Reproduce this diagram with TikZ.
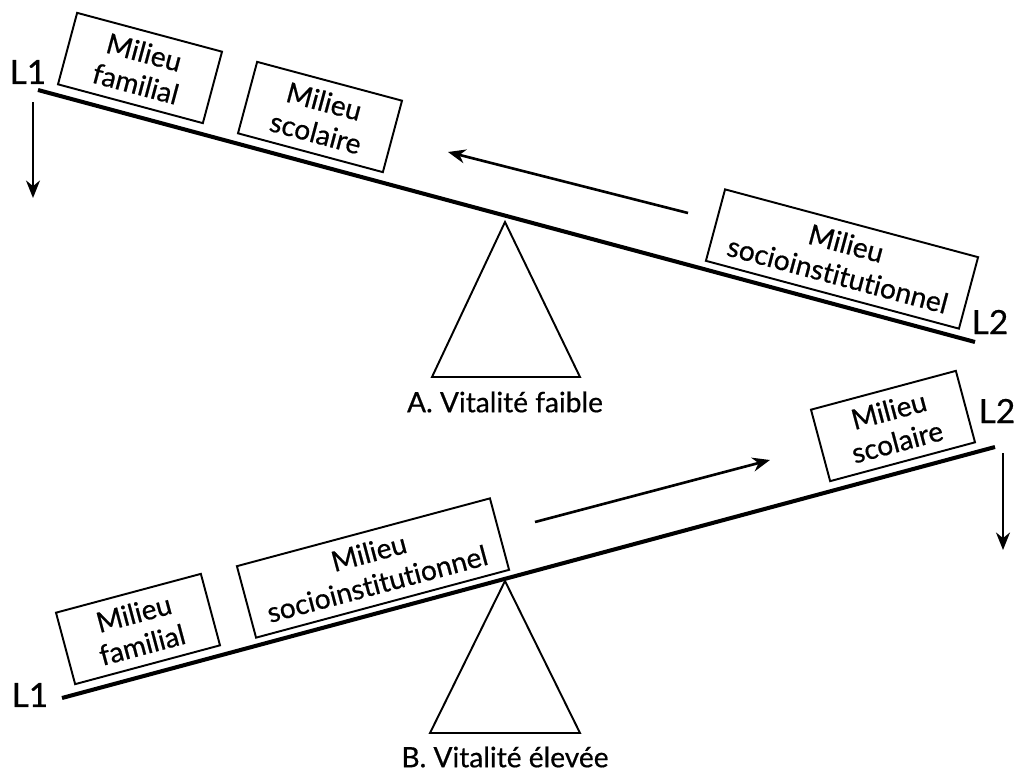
\documentclass[tikz,border=0pt]{standalone}
\usepackage{fontspec}
\setmainfont{Lato}[FakeBold=0.6,Ligatures=NoCommon]
\usetikzlibrary{arrows.meta}
\tikzset{
  milieu/.style={draw,line width=1.1pt,align=center,inner sep=0pt,
    minimum width=3cm,minimum height=1.48cm,font=\fontsize{16}{18.5}\selectfont},
  wide/.style={milieu,minimum width=5.24cm},
  beam/.style={line width=2.3pt},
  pivot/.style={line width=1.1pt,line join=miter},
  push/.style={-{Stealth[length=10pt,width=8pt]},line width=1.5pt},
  lbl/.style={font=\fontsize{16}{19}\selectfont},
  end/.style={font=\fontsize{19}{22}\selectfont}
}
\begin{document}
\begin{tikzpicture}[x=0.02cm,y=-0.02cm]
        \useasboundingbox (0,0) rectangle (1024,774);
        % A. vitalite faible
        \coordinate(a1)at(38,90);
        \coordinate(a2)at(975,342);
        \draw[beam](a1)--(a2);
        \node[end](la1)at(28,72){L1};
        \node[end](la2)at(990,322){L2};
        \draw[pivot](505,222)--(432,377)--(580,377)--cycle;
        \node[lbl](ta)at(505,402){A. Vitalité faible};

        \node[milieu,rotate=-15](afam)at(140,68){Milieu\\familial};
        \node[milieu,rotate=-15](asco)at(320,117){Milieu\\scolaire};
        \node[wide,rotate=-15](asoc)at(842,259){Milieu\\socioinstitutionnel};

        \coordinate(ap1)at(688,213);
        \coordinate(ap2)at(448,152);
        \draw[push](ap1)--(ap2);
        \coordinate(ad1)at(33,102);
        \coordinate(ad2)at(33,198);
        \draw[push,line width=1pt](ad1)--(ad2);

        % B. vitalite elevee
        \coordinate(b1)at(62,698);
        \coordinate(b2)at(995,447);
        \draw[beam](b1)--(b2);
        \node[end](lb1)at(30,695){L1};
        \node[end](lb2)at(997,411){L2};
        \draw[pivot](505,581)--(430,733)--(580,733)--cycle;
        \node[lbl](tb)at(505,757){B. Vitalité élevée};

        \node[milieu,rotate=15](bfam)at(138,629){Milieu\\familial};
        \node[wide,rotate=15](bsoc)at(373,568){Milieu\\socioinstitutionnel};
        \node[milieu,rotate=15](bsco)at(893,426){Milieu\\scolaire};

        \coordinate(bp1)at(535,522);
        \coordinate(bp2)at(770,460);
        \draw[push](bp1)--(bp2);
        \coordinate(bd1)at(1003,453);
        \coordinate(bd2)at(1003,550);
        \draw[push,line width=1pt](bd1)--(bd2);
\end{tikzpicture}
\end{document}
